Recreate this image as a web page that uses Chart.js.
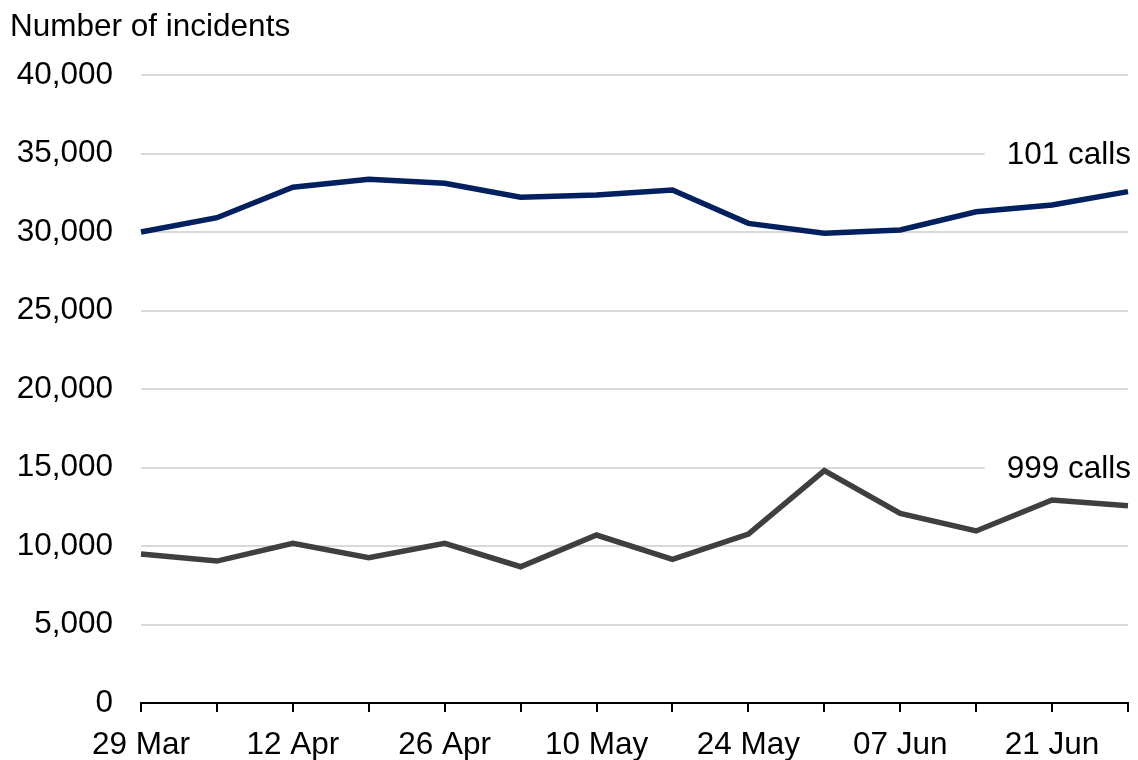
<!DOCTYPE html>
<html>
<head>
<meta charset="utf-8">
<script src="https://cdn.jsdelivr.net/npm/chart.js@4"></script>
<style>
    html, body { margin: 0; padding: 0; background: #ffffff; }
    #wrap { width: 1138px; height: 760px; }
</style>
</head>
<body>
<div id="wrap"><canvas id="incidents-chart" width="1138" height="760"></canvas></div>
<script>
// weekly categories, every second one gets a label on the axis
const weeks = [
    '29 Mar', '05 Apr', '12 Apr', '19 Apr', '26 Apr', '03 May', '10 May',
    '17 May', '24 May', '31 May', '07 Jun', '14 Jun', '21 Jun', '28 Jun'
];
const calls101 = [
    30000, 30910, 32850, 33360, 33100, 32210, 32360,
    32680, 30550, 29920, 30130, 31290, 31720, 32570
];
const calls999 = [
    9490, 9040, 10170, 9260, 10170, 8680, 10700,
    9150, 10760, 14800, 12080, 10960, 12930, 12570
];
const yTicks = [0, 5000, 10000, 15000, 20000, 25000, 30000, 35000, 40000];

const FONT = 'Liberation Sans, Arial, sans-serif';
const FONT_SIZE = 31.5;
const colors = {
    calls101: '#002060',
    calls999: '#3f3f3f',
    grid: '#d9d9d9',
    text: '#000000'
};

// series names sit at the right, on a white patch that hides the gridline
const seriesLabels = {
    id: 'seriesLabels',
    beforeDatasetsDraw(chart) {
        const ctx = chart.ctx;
        const y = chart.scales.y;
        const right = chart.width - 7;
        const items = [
            { text: '101 calls', value: 35000 },
            { text: '999 calls', value: 15000 }
        ];
        ctx.save();
        ctx.font = FONT_SIZE + 'px ' + FONT;
        ctx.textAlign = 'right';
        ctx.textBaseline = 'middle';
        items.forEach(item => {
            const py = y.getPixelForValue(item.value);
            const w = ctx.measureText(item.text).width;
            ctx.fillStyle = '#ffffff';
            ctx.fillRect(right - w - 22, py - 18, w + 30, 36);
            ctx.fillStyle = colors.text;
            ctx.fillText(item.text, right, py + 2);
        });
        ctx.restore();
    }
};

new Chart(document.getElementById('incidents-chart'), {
    type: 'line',
    data: {
        labels: weeks,
        datasets: [
            {
                label: '101 calls',
                data: calls101,
                borderColor: colors.calls101,
                borderWidth: 5.5,
                pointRadius: 0,
                pointHoverRadius: 0,
                tension: 0,
                fill: false
            },
            {
                label: '999 calls',
                data: calls999,
                borderColor: colors.calls999,
                borderWidth: 5.5,
                pointRadius: 0,
                pointHoverRadius: 0,
                tension: 0,
                fill: false
            }
        ]
    },
    options: {
        responsive: false,
        animation: false,
        layout: {
            padding: { left: 10, right: 10, top: 0, bottom: 0 }
        },
        plugins: {
            legend: { display: false },
            tooltip: { enabled: false },
            title: {
                display: true,
                text: 'Number of incidents',
                align: 'start',
                color: colors.text,
                font: { family: FONT, size: FONT_SIZE, weight: 'normal' },
                padding: { top: 8, bottom: 29.2 }
            }
        },
        scales: {
            x: {
                offset: false,
                afterFit(scale) {
                    scale.height = 57;
                    scale.paddingRight = 0;
                },
                grid: {
                    display: true,
                    drawOnChartArea: false,
                    drawTicks: true,
                    tickLength: 9,
                    color: '#000000',
                    lineWidth: 2
                },
                border: { display: true, color: '#000000', width: 2 },
                ticks: {
                    autoSkip: false,
                    maxRotation: 0,
                    padding: 14,
                    color: colors.text,
                    font: { family: FONT, size: FONT_SIZE },
                    callback: function(value, index) {
                        return index % 2 === 0 ? weeks[index] : '';
                    }
                }
            },
            y: {
                min: 0,
                max: 40000,
                afterFit(scale) { scale.width = 131; },
                afterBuildTicks(scale) {
                    scale.ticks = yTicks.map(v => ({ value: v }));
                },
                grid: {
                    color: colors.grid,
                    lineWidth: 2,
                    drawTicks: false
                },
                border: { display: false },
                ticks: {
                    padding: 28,
                    color: colors.text,
                    font: { family: FONT, size: FONT_SIZE },
                    callback: function(value) {
                        return value.toLocaleString('en-GB');
                    }
                }
            }
        }
    },
    plugins: [seriesLabels]
});
</script>
</body>
</html>
